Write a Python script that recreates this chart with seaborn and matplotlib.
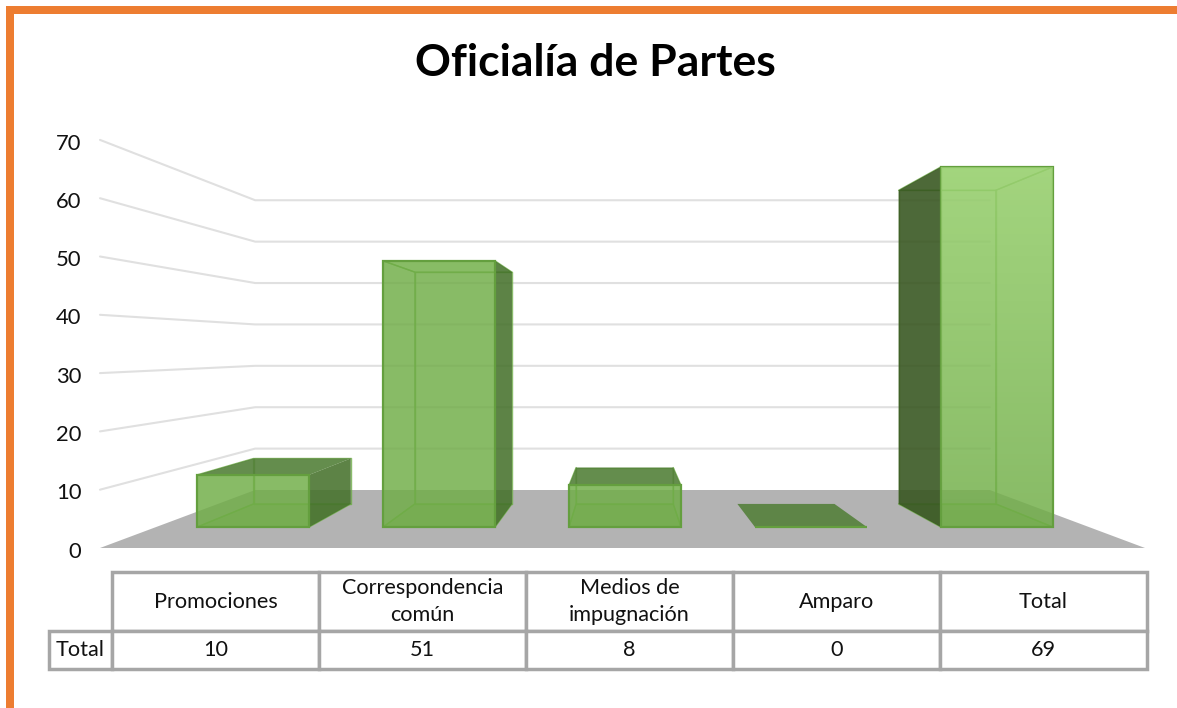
import numpy as np
import pandas as pd
import seaborn as sns
import matplotlib
matplotlib.use("Agg")
import matplotlib.pyplot as plt
from matplotlib.colors import to_rgba
from matplotlib.patches import Rectangle

# ---- data ----
categories = ["Promociones", "Correspondencia común", "Medios de impugnación", "Amparo", "Total"]
table_headers = ["Promociones", "Correspondencia\ncomún", "Medios de\nimpugnación", "Amparo", "Total"]
values = [10, 51, 8, 0, 69]
y_ticks = [0, 10, 20, 30, 40, 50, 60, 70]
row_label = "Total"
title = "Oficialía de Partes"

# ---- geometry of the pseudo 3D scene (pixels of the 1177x708 picture) ----
W, H = 1177, 708
CX, HALF_W = 622.5, 522.5      # floor centre and half width on its front edge
FLOOR_Y, FLOOR_RISE = 548, 58  # floor front edge and its rise to the back wall
V_PX = 5.83                    # pixels per unit at the front edge
SHRINK_X, SHRINK_V = 0.297, 0.29   # perspective shrink at the back wall
T0, T1 = 0.36, 0.76            # depth of the bars' front and back faces
C0_PX, C_STEP = 253, 186.0     # category spacing on the bars' front plane
BAR_W = 112 / 186.0


def sx(t):
    return 1 - SHRINK_X * t


def sv(t):
    return 1 - SHRINK_V * t


FRONT_BASE = FLOOR_Y - FLOOR_RISE * T0
FRONT_V = V_PX * sv(T0)


def to_data(px, py):
    return (px - C0_PX) / C_STEP, (FRONT_BASE - py) / FRONT_V


def scene(u, v, t):
    """u in [-1, 1] across the floor, v value, t depth -> data coordinates."""
    px = CX + u * HALF_W * sx(t)
    py = FLOOR_Y - FLOOR_RISE * t - v * V_PX * sv(t)
    return to_data(px, py)


def u_of_cat(c):
    return (C0_PX + C_STEP * c - CX) / (HALF_W * sx(T0))


sns.set_theme(style="white")
plt.rcParams["font.family"] = ["Lato", "DejaVu Sans"]

fig = plt.figure(figsize=(W / 100, H / 100), dpi=100, facecolor="white")
ax = fig.add_axes([0, 0, 1, 1])

df = pd.DataFrame({"category": categories, "value": values})
GREEN = "#70AD47"
EDGE = "#649F3E"
sns.barplot(data=df, x="category", y="value", order=categories, ax=ax, width=BAR_W,
            color=GREEN, saturation=1, edgecolor=EDGE, linewidth=1.6, zorder=5)
for bar in ax.containers[0]:
    bar.set_facecolor(to_rgba(GREEN, 0.8))

ax.set_xlim(*[to_data(p, 0)[0] for p in (0, W)])
ax.set_ylim(to_data(0, H)[1], to_data(0, 0)[1])
ax.set_axis_off()

# floor
floor = [scene(-1, 0, 0), scene(1, 0, 0), scene(1, 0, 1), scene(-1, 0, 1)]
ax.fill(*zip(*floor), color="#B3B3B3", lw=0, zorder=1)

# walls' gridlines
for v in y_ticks[1:]:
    pts = [scene(-1, v, 0), scene(-1, v, 1), scene(1, v, 1)]
    ax.plot(*zip(*pts), color="#E0E0E0", lw=1.5, zorder=2, solid_joinstyle="miter")

# y labels
for v in y_ticks:
    ax.annotate(str(v), xy=scene(-1, v, 0), xytext=(-13.5, -2.6), textcoords="offset points",
                ha="right", va="center", fontsize=15.8, color="#111111", zorder=9)


def face(pts, color, alpha, z, edge=None):
    ax.fill(*zip(*pts), facecolor=color, alpha=alpha, edgecolor="none", lw=0, zorder=z)
    if edge:
        closed = list(pts) + [pts[0]]
        ax.plot(*zip(*closed), color=edge, lw=1.0, alpha=0.8, zorder=z + 0.05)


INNER = "#70AD47"
LINE = "#6EAB48"
for c, v in enumerate(values):
    ul, ur = u_of_cat(c - BAR_W / 2), u_of_cat(c + BAR_W / 2)
    fl0, fr0 = scene(ul, 0, T0), scene(ur, 0, T0)
    bl0, br0 = scene(ul, 0, T1), scene(ur, 0, T1)
    flv, frv = scene(ul, v, T0), scene(ur, v, T0)
    blv, brv = scene(ul, v, T1), scene(ur, v, T1)

    left_out = blv[0] < flv[0]
    right_out = brv[0] > frv[0]
    top_out = blv[1] > flv[1]

    if v > 0:
        # interior faces, seen through the translucent front
        face([bl0, br0, brv, blv], INNER, 0.14, 3, edge=LINE)
        face([fl0, fr0, br0, bl0], INNER, 0.45, 3, edge=LINE)
        if left_out:
            face([fl0, bl0, blv, flv], "#36541F", 0.87, 4)
        else:
            face([fl0, bl0, blv, flv], INNER, 0.14, 3, edge=LINE)
        if right_out:
            face([fr0, br0, brv, frv], "#44702A", 0.85, 4)
        else:
            face([fr0, br0, brv, frv], INNER, 0.14, 3, edge=LINE)
    if top_out:
        face([flv, frv, brv, blv], "#527F38", 0.88, 4)
    else:
        face([flv, frv, brv, blv], "#B5E88F", 0.30, 3, edge=LINE)

# Total bar: lighter towards the top
bars = ax.containers[0]
tallest = bars[int(np.argmax(values))]
ramp = np.zeros((64, 2, 4))
ramp[..., :3] = to_rgba("#C8F8A0")[:3]
ramp[..., 3] = np.linspace(0.42, 0.0, 64)[:, None]
x0, x1 = tallest.get_x(), tallest.get_x() + tallest.get_width()
keep_x, keep_y = ax.get_xlim(), ax.get_ylim()
img = ax.imshow(ramp, extent=(x0, x1, 0, tallest.get_height()), origin="upper",
                aspect="auto", zorder=6)
img.set_clip_path(tallest)
ax.set_xlim(keep_x)
ax.set_ylim(keep_y)

# title
ax.text(595 / W, 1 - 63 / H, title, transform=ax.transAxes, ha="center", va="center",
        fontsize=32, fontweight="bold", color="#000000")

# data table
cell_text = [[""] + table_headers, [row_label] + [str(v) for v in values]]
tab = ax.table(cellText=cell_text, colWidths=[63 / 1098] + [207 / 1098] * 5, cellLoc="center",
               bbox=[49 / W, 1 - 669 / H, 1098 / W, 97 / H], zorder=8)
tab.auto_set_font_size(False)
tab.set_fontsize(15.6)
for (r, col), cell in tab.get_celld().items():
    cell.set_height(59 / 97 if r == 0 else 38 / 97)
    cell.set_edgecolor("#A6A6A6")
    cell.set_linewidth(2.5)
    cell.set_facecolor("white")
    cell.get_text().set_color("#111111")
    cell.get_text().set_linespacing(1.42)
    cell.PAD = 0.02
tab[(0, 0)].visible_edges = ""

# orange frame
fig.add_artist(Rectangle((6 / W, 0), 8 / W, 1 - 6 / H, transform=fig.transFigure,
                         facecolor="#ED7D31", edgecolor="none"))
fig.add_artist(Rectangle((6 / W, 1 - 14 / H), 1 - 6 / W, 8 / H, transform=fig.transFigure,
                         facecolor="#ED7D31", edgecolor="none"))

fig.savefig("out.png", dpi=100, facecolor="white")
